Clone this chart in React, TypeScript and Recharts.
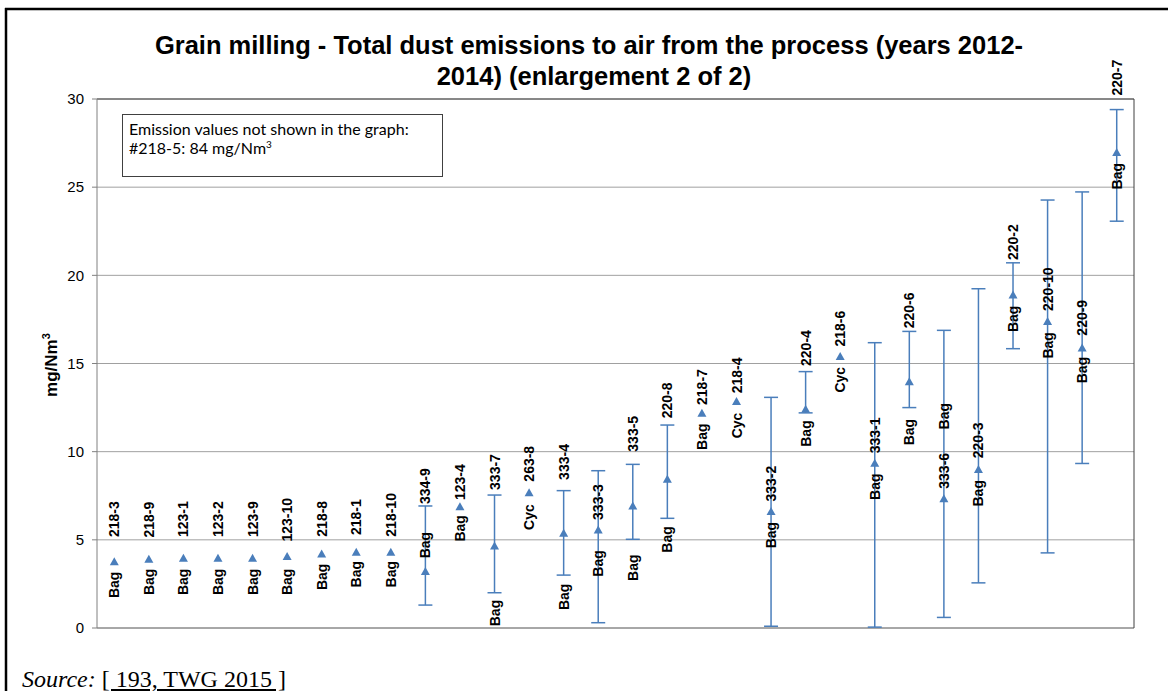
import React from 'react'
import {
  ComposedChart,
  Line,
  ErrorBar,
  XAxis,
  YAxis,
  CartesianGrid,
  ReferenceDot,
  ReferenceLine,
} from 'recharts'

// plant codes, in the order they appear on the chart
const plants = [
  '218-3', '218-9', '123-1', '123-2', '123-9', '123-10', '218-8', '218-1', '218-10', '334-9',
  '123-4', '333-7', '263-8', '333-4', '333-3', '333-5', '220-8', '218-7', '218-4', '333-2',
  '220-4', '218-6', '333-1', '220-6', '333-6', '220-3', '220-2', '220-10', '220-9', '220-7',
]

// abatement technique: Bag = bag filter, Cyc = cyclone
const techniques = [
  'Bag', 'Bag', 'Bag', 'Bag', 'Bag', 'Bag', 'Bag', 'Bag', 'Bag', 'Bag',
  'Bag', 'Bag', 'Cyc', 'Bag', 'Bag', 'Bag', 'Bag', 'Bag', 'Cyc', 'Bag',
  'Bag', 'Cyc', 'Bag', 'Bag', 'Bag', 'Bag', 'Bag', 'Bag', 'Bag', 'Bag',
]

// average emission, mg/Nm3
const averages = [
  3.76, 3.9, 3.95, 3.95, 3.95, 4.05, 4.2, 4.3, 4.3, 3.2,
  6.88, 4.65, 7.67, 5.37, 5.56, 6.92, 8.43, 12.18, 12.84, 6.6,
  12.4, 15.39, 9.34, 13.97, 7.33, 8.99, 18.88, 17.38, 15.88, 26.96,
]

// min / max of the reported range (null = no range reported)
const minima: (number | null)[] = [
  null, null, null, null, null, null, null, null, null, 1.3,
  null, 2.0, null, 3.0, 0.3, 5.03, 6.22, null, null, 0.1,
  12.2, null, 0.05, 12.5, 0.6, 2.56, 15.84, 4.26, 9.33, 23.07,
]
const maxima: (number | null)[] = [
  null, null, null, null, null, null, null, null, null, 6.92,
  null, 7.54, null, 7.79, 8.92, 9.28, 11.51, null, null, 13.08,
  14.54, null, 16.18, 16.82, 16.88, 19.24, 20.71, 24.27, 24.73, 29.4,
]

// where each rotated data label starts (mg/Nm3 value at the foot of the text)
const plantLabelAt = [
  5.16, 5.13, 5.16, 5.16, 5.16, 4.9, 5.18, 5.27, 5.18, 7.03,
  7.26, 7.83, 8.3, 8.4, 6.13, 10.0, 11.89, 12.65, 13.31, 7.17,
  14.86, 15.96, 9.91, 17.0, 7.9, 9.63, 20.87, 17.98, 16.58, 30.2,
]
const techniqueLabelAt = [
  1.7, 1.87, 1.87, 1.87, 1.87, 1.87, 2.15, 2.3, 2.3, 3.95,
  4.9, 0.1, 5.56, 1.02, 2.91, 2.67, 4.27, 10.1, 10.76, 4.52,
  10.28, 13.35, 7.26, 10.36, 11.26, 6.89, 16.78, 15.28, 13.88, 24.87,
]

const yTicks = [0, 5, 10, 15, 20, 25, 30]

const BLUE = '#4a7ebb'
const SANS = '"Liberation Sans", Arial, sans-serif'

const data = plants.map((plant, i) => {
  const lo = minima[i]
  const hi = maxima[i]
  return {
    plant,
    avg: averages[i],
    range: lo == null || hi == null ? undefined : [averages[i] - lo, hi - averages[i]],
  }
})

const Triangle = (props: any) => {
  const { cx, cy, index } = props
  if (cx == null || cy == null) return <g key={`tri-${index}`} />
  return (
    <path
      key={`tri-${index}`}
      d={`M${cx},${cy - 4.5} L${cx + 4.5},${cy + 3.5} L${cx - 4.5},${cy + 3.5} Z`}
      fill={BLUE}
    />
  )
}

const verticalLabel = (text: string) => (props: any) => {
  const { cx, cy } = props
  return (
    <text
      x={cx}
      y={cy}
      transform={`rotate(-90 ${cx} ${cy})`}
      dy="0.36em"
      textAnchor="start"
      fontFamily={SANS}
      fontWeight="bold"
      fontSize={14}
      fill="#000"
    >
      {text}
    </text>
  )
}

export default function App() {
  return (
    <div style={{ position: 'fixed', left: 0, top: 0, width: 1168, height: 691, background: '#fff' }}>
      <div style={{ position: 'absolute', left: 0, top: 0 }}>
        <ComposedChart
          width={1168}
          height={691}
          data={data}
          margin={{ top: 99, right: 34, bottom: 63, left: 37 }}
        >
          <CartesianGrid vertical={false} stroke="#a0a0a0" />
          <XAxis dataKey="plant" scale="band" hide />
          <YAxis
            domain={[0, 30]}
            ticks={yTicks}
            interval={0}
            width={60}
            allowDataOverflow
            tickSize={5}
            tickMargin={8}
            tick={{ fontSize: 15, fill: '#000', fontFamily: SANS }}
            tickLine={{ stroke: '#808080' }}
            axisLine={{ stroke: '#808080' }}
          />
          <ReferenceLine y={0} stroke="#808080" />
          <ReferenceLine y={30} stroke="#404040" />
          <ReferenceLine x="220-7" position="end" stroke="#404040" />

          <Line
            dataKey="avg"
            stroke="none"
            strokeWidth={0}
            dot={Triangle}
            activeDot={false}
            legendType="none"
            isAnimationActive={false}
          >
            <ErrorBar dataKey="range" direction="y" width={7} stroke={BLUE} strokeWidth={1.5} />
          </Line>

          {plants.map((plant, i) => (
            <ReferenceDot
              key={`id-${plant}`}
              x={plant}
              y={plantLabelAt[i]}
              r={0}
              ifOverflow="visible"
              shape={verticalLabel(plant)}
            />
          ))}
          {plants.map((plant, i) => (
            <ReferenceDot
              key={`tech-${plant}`}
              x={plant}
              y={techniqueLabelAt[i]}
              r={0}
              ifOverflow="visible"
              shape={verticalLabel(techniques[i])}
            />
          ))}
        </ComposedChart>
      </div>

      <svg
        width={1168}
        height={691}
        style={{ position: 'absolute', left: 0, top: 0, pointerEvents: 'none' }}
      >
        {/* document frame */}
        <line x1={6} y1={8} x2={6} y2={691} stroke="#000" strokeWidth={2.5} />
        <line x1={5} y1={9} x2={1168} y2={9} stroke="#000" strokeWidth={2.5} />

        <text x={589} y={54} textAnchor="middle" fontFamily={SANS} fontWeight="bold" fontSize={25.5} fill="#000">
          Grain milling - Total dust emissions to air from the process (years 2012-
        </text>
        <text x={594} y={85} textAnchor="middle" fontFamily={SANS} fontWeight="bold" fontSize={25.5} fill="#000">
          2014) (enlargement 2 of 2)
        </text>

        <g transform="translate(57 365) rotate(-90)">
          <text x={0} y={0} textAnchor="middle" fontFamily={SANS} fontWeight="bold" fontSize={17} fill="#000">
            mg/Nm<tspan fontSize={11} dy={-7}>3</tspan>
          </text>
        </g>

        <rect x={122.5} y={114.5} width={320} height={62} fill="#fff" stroke="#404040" />
        <text x={129} y={135} fontFamily="Lato, sans-serif" fontSize={16} fill="#000">
          Emission values not shown in the graph:
        </text>
        <text x={129} y={154} fontFamily="Lato, sans-serif" fontSize={16} fill="#000">
          #218-5: 84 mg/Nm<tspan fontSize={10} dy={-6}>3</tspan>
        </text>

        <text x={22} y={687} fontFamily='"Liberation Serif", "Times New Roman", serif' fontSize={24} fill="#000">
          <tspan fontStyle="italic">Source:</tspan>
          <tspan> </tspan>
          <tspan textDecoration="underline">[ 193, TWG 2015 ]</tspan>
        </text>
      </svg>
    </div>
  )
}
